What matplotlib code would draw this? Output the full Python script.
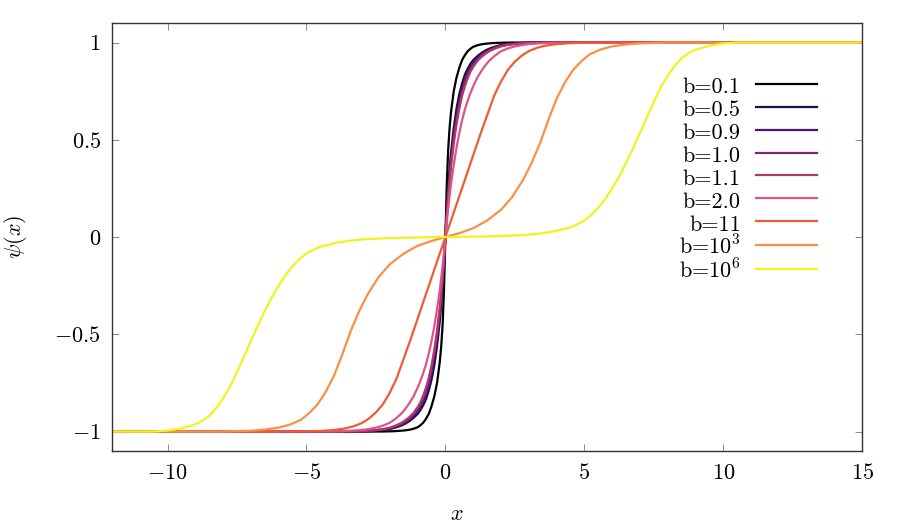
import numpy as np
import matplotlib
matplotlib.use("Agg")
import matplotlib.pyplot as plt

plt.rcParams["font.family"] = "serif"
plt.rcParams["font.serif"] = ["cmr10", "DejaVu Serif"]
plt.rcParams["mathtext.fontset"] = "cm"
plt.rcParams["axes.formatter.use_mathtext"] = True

# curves are odd in x: values read for x >= 0, mirrored below
x_low = [0, 0.05, 0.1, 0.15, 0.2, 0.3, 0.4, 0.5, 0.6, 0.7, 0.8, 0.9, 1.0, 1.15,
         1.3, 1.45, 1.6, 1.8, 2.0, 2.25, 2.5, 2.75, 3.0, 3.5, 4.0, 15]
psi_b01 = [0, 0.27, 0.45, 0.56, 0.64, 0.75, 0.82, 0.87, 0.91, 0.935, 0.955, 0.968, 0.978,
           0.986, 0.991, 0.994, 0.996, 0.998, 0.999, 1, 1, 1, 1, 1, 1, 1]
psi_b05 = [0, 0.14, 0.25, 0.35, 0.43, 0.56, 0.66, 0.735, 0.79, 0.835, 0.865, 0.89, 0.91,
           0.93, 0.947, 0.96, 0.97, 0.98, 0.987, 0.992, 0.996, 0.998, 0.999, 1, 1, 1]
psi_b09 = [0, 0.12, 0.22, 0.31, 0.39, 0.52, 0.62, 0.70, 0.76, 0.81, 0.845, 0.873, 0.895,
           0.92, 0.938, 0.953, 0.965, 0.976, 0.984, 0.99, 0.994, 0.997, 0.998, 1, 1, 1]
psi_b10 = [0, 0.115, 0.21, 0.30, 0.375, 0.50, 0.60, 0.68, 0.745, 0.795, 0.83, 0.86, 0.885,
           0.912, 0.932, 0.948, 0.961, 0.973, 0.982, 0.989, 0.993, 0.996, 0.998, 1, 1, 1]
psi_b11 = [0, 0.11, 0.20, 0.285, 0.36, 0.48, 0.58, 0.66, 0.725, 0.775, 0.815, 0.85, 0.875,
           0.905, 0.926, 0.943, 0.957, 0.97, 0.98, 0.988, 0.992, 0.995, 0.997, 0.999, 1, 1]
psi_b20 = [0, 0.075, 0.145, 0.21, 0.27, 0.37, 0.46, 0.535, 0.60, 0.655, 0.70, 0.74, 0.775,
           0.82, 0.855, 0.885, 0.91, 0.935, 0.955, 0.97, 0.98, 0.987, 0.992, 0.997, 0.999, 1]

x_b11 = [0, 0.25, 0.5, 0.75, 1.0, 1.25, 1.5, 1.75, 2.0, 2.25, 2.5, 2.75, 3.0, 3.3,
         3.6, 4.0, 4.5, 5.0, 6.0, 15]
psi_bb11 = [0, 0.105, 0.21, 0.315, 0.42, 0.525, 0.625, 0.725, 0.8, 0.86, 0.902, 0.933,
            0.956, 0.973, 0.984, 0.992, 0.997, 0.999, 1, 1]

x_b1e3 = [0, 0.5, 1.0, 1.5, 2.0, 2.4, 2.8, 3.1, 3.4, 3.7, 4.0, 4.3, 4.6, 4.9, 5.2,
          5.6, 6.0, 6.5, 7.0, 8.0, 15]
psi_b1e3 = [0, 0.02, 0.045, 0.085, 0.14, 0.205, 0.295, 0.38, 0.48, 0.60, 0.71, 0.795,
            0.86, 0.905, 0.94, 0.965, 0.98, 0.99, 0.996, 1, 1]

x_b1e6 = [0, 1, 2, 3, 3.5, 4, 4.5, 4.75, 5, 5.25, 5.5, 5.75, 6, 6.25, 6.5, 6.75, 7,
          7.25, 7.5, 7.75, 8, 8.25, 8.5, 8.75, 9, 9.5, 10, 10.5, 15]
psi_b1e6 = [0, 0.002, 0.005, 0.012, 0.02, 0.032, 0.05, 0.065, 0.085, 0.113, 0.15,
            0.195, 0.25, 0.31, 0.38, 0.455, 0.535, 0.615, 0.695, 0.77, 0.83, 0.88,
            0.92, 0.945, 0.963, 0.984, 0.995, 1, 1]

labels = ["b=0.1", "b=0.5", "b=0.9", "b=1.0", "b=1.1", "b=2.0", "b=11",
          r"b=$10^3$", r"b=$10^6$"]
colors = ["#000000", "#1c1046", "#4c117a", "#84237e", "#b03a65", "#dc5488",
          "#ee5b35", "#fa9045", "#f2f21c"]
series = [(x_low, psi_b01), (x_low, psi_b05), (x_low, psi_b09), (x_low, psi_b10),
          (x_low, psi_b11), (x_low, psi_b20), (x_b11, psi_bb11),
          (x_b1e3, psi_b1e3), (x_b1e6, psi_b1e6)]


def mirror(x, y):
    x = np.asarray(x, float)
    y = np.asarray(y, float)
    return np.concatenate([-x[::-1], x[1:]]), np.concatenate([-y[::-1], y[1:]])


fig = plt.figure(figsize=(9, 5.25), dpi=100)
ax = fig.add_axes([0.1244, 0.141, 0.8336, 0.815])

for (xs, ys), lab, c in zip(series, labels, colors):
    xx, yy = mirror(xs, ys)
    ax.plot(xx, yy, color=c, lw=1.6, label=lab, solid_joinstyle="round")

ax.set_xlim(-12, 15)
ax.set_ylim(-1.1, 1.1)
ax.set_xticks([-10, -5, 0, 5, 10, 15],
              labels=[r"$-10$", r"$-5$", r"$0$", r"$5$", r"$10$", r"$15$"])
ax.set_yticks([-1, -0.5, 0, 0.5, 1],
              labels=[r"$-1$", r"$-0.5$", r"$0$", r"$0.5$", r"$1$"])
ax.tick_params(direction="in", top=True, right=True, length=5, width=0.6,
               color="#777777", labelsize=16)
ax.tick_params(axis="x", pad=9)
ax.tick_params(axis="y", pad=8)
for s in ax.spines.values():
    s.set_color("#333333")
    s.set_linewidth(1.0)

ax.set_xlabel(r"$x$", fontsize=16, labelpad=12)
ax.xaxis.set_label_coords(0.46, -0.125)
ax.set_ylabel(r"$\psi(x)$", fontsize=16, labelpad=18)

ax.legend(loc="upper right", bbox_to_anchor=(0.94, 0.88), frameon=False,
          markerfirst=False, fontsize=16, handlelength=2.75, handletextpad=0.68,
          handleheight=1.2, labelspacing=0.0, borderpad=0, borderaxespad=0)

fig.savefig("out.png", dpi=100)
